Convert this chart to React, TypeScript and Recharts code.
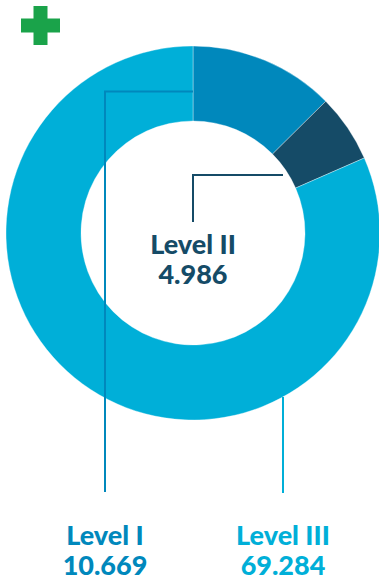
import { PieChart, Pie, Cell } from 'recharts';

const levels = ['Level I', 'Level II', 'Level III'];
const values = [10.669, 4.986, 69.284];
const valueLabels = ['10.669', '4.986', '69.284'];
const colors = ['#0088bc', '#154b67', '#00afd8'];

const data = levels.map((name, i) => ({ name, value: values[i] }));

const W = 379;
const H = 580;
const CX = 193;
const CY = 233;
const INNER = 112;
const OUTER = 187;
const FONT = 'Lato, "Open Sans", sans-serif';

// leader line + text per slice
function renderLabel(props: any) {
  const { cx, cy, innerRadius, outerRadius, index } = props;
  const color = colors[index];
  const common = { stroke: color, strokeWidth: 2, fill: 'none' };
  let path = '';
  let tx = 0;
  let ty = 0;
  if (index === 0) {
    const y = cy - (innerRadius + outerRadius) / 2 + 8;
    const x = cx - 88;
    path = `M${cx},${y} H${x} V${cy + 259}`;
    tx = x;
    ty = cy + 312;
  } else if (index === 1) {
    const y = cy - 58;
    const xEnd = cx + 90;
    path = `M${xEnd},${y} H${cx} V${cy - 11}`;
    tx = cx;
    ty = cy + 21;
  } else {
    const x = cx + 90;
    const y0 = cy + Math.sqrt(outerRadius * outerRadius - 90 * 90);
    path = `M${x},${y0} V${cy + 260}`;
    tx = x;
    ty = cy + 312;
  }
  return (
    <g key={`lbl-${index}`}>
      <path d={path} {...common} />
      <text x={tx} y={ty} textAnchor="middle" fill={color} fontFamily={FONT} fontWeight={900} fontSize={27}>
        {levels[index]}
      </text>
      <text x={tx} y={ty + 30} textAnchor="middle" fill={color} fontFamily={FONT} fontWeight={900} fontSize={27}>
        {valueLabels[index]}
      </text>
    </g>
  );
}

export default function App() {
  return (
    <div style={{ position: 'absolute', left: 0, top: 0, width: W, height: H, background: '#fff' }}>
      <svg width={39} height={39} style={{ position: 'absolute', left: 20.5, top: 5.5 }}>
        <rect x={12.5} y={0} width={14} height={39} fill="#1aa34a" />
        <rect x={0} y={12.5} width={39} height={14} fill="#1aa34a" />
      </svg>
      <PieChart
        width={W}
        height={H}
        margin={{ top: 0, right: 0, bottom: 0, left: 0 }}
        style={{ position: 'absolute', left: 0, top: 0 }}
      >
        <Pie
          data={data}
          dataKey="value"
          cx={CX}
          cy={CY}
          innerRadius={INNER}
          outerRadius={OUTER}
          startAngle={90}
          endAngle={-270}
          stroke="rgba(255,255,255,0.35)"
          strokeWidth={1}
          label={renderLabel}
          labelLine={false}
          isAnimationActive={false}
        >
          {data.map((d, i) => (
            <Cell key={d.name} fill={colors[i]} />
          ))}
        </Pie>
      </PieChart>
    </div>
  );
}
